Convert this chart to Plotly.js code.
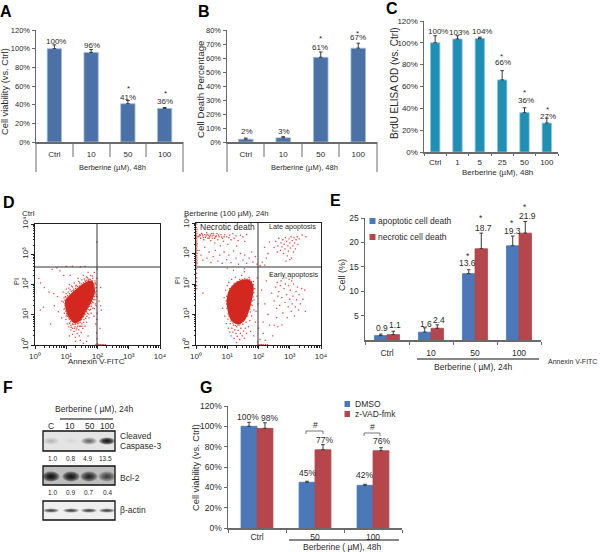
<!DOCTYPE html>
<html><head><meta charset="utf-8">
<script src="https://cdn.plot.ly/plotly-3.0.1.min.js"></script>
<style>html,body{margin:0;padding:0;background:#fff}#c{width:600px;height:552px}</style></head>
<body><div id="c"></div>
<script>
// ---------- data ----------
const aCats=['Ctrl','10','50','100'], aVals=[100,96,41,36], aErr=[4,3,3.5,1];
const bCats=['Ctrl','10','50','100'], bVals=[2,3,60.5,67], bErr=[0.8,0.8,3.8,3.6];
const cCats=['Ctrl','1','5','25','50','100'], cVals=[100,103.5,104,66,36,26.5], cErr=[6.5,3,1.2,8.5,4.5,4.5];
const aLabels=['100%','96%','41%','36%'], bLabels=['2%','3%','61%','67%'], cLabels=['100%','103%','104%','66%','36%','27%'];
const eCats=['Ctrl','10','50','100'];
const eApop=[0.9,1.6,13.6,19.3], eApopErr=[0.3,0.9,0.8,2], eNec=[1.1,2.4,18.7,21.9], eNecErr=[0.7,0.7,3.2,2.4];
const gCats=['Ctrl','50','100'];
const gDmso=[100,45,42], gDmsoErr=[4,1,1], gZvad=[98,77,76], gZvadErr=[5.5,5,3];
const gDmsoLabels=['100%','45%','42%'], gZvadLabels=['98%','77%','76%'];
// flow cytometry: [log10 Annexin V, log10 PI]
const ctrlCloud=[[1.68,2.07],[1.8,2.1],[1.87,1.95],[1.88,1.7],[1.8,1.48],[1.68,1.26],[1.56,1.04],[1.42,.82],[1.26,.75],[1.13,.9],[1.05,1.05],[1.0,1.25],[1.0,1.48],[1.12,1.62],[1.25,1.75],[1.39,1.87],[1.55,2.0]];
const ctrlEvents=[[0.12,2.2],[0.18,2.05],[0.3,1.9],[0.27,1.25],[0.17,1.15],[0.45,1.75],[0.5,0.7],[0.6,1.7],[0.62,1.3],[0.72,1.6],[0.75,1.1],[0.8,2.45],[0.85,0.9],[0.86,1.45],[0.9,1.75],[0.92,2.3],[0.94,1.05],[0.96,1.3],[0.97,1.6],[0.99,0.85],[1.0,1.85],[1.02,1.05],[1.03,0.7],[1.05,0.95],[1.06,1.75],[1.08,1.88],[1.08,0.6],[1.1,2.0],[1.1,0.85],[1.12,0.72],[1.13,2.3],[1.15,0.5],[1.15,0.65],[1.17,1.95],[1.18,0.82],[1.2,0.35],[1.2,0.55],[1.22,0.68],[1.24,1.85],[1.25,0.45],[1.26,2.05],[1.28,0.6],[1.29,0.25],[1.3,0.7],[1.32,0.5],[1.33,1.98],[1.35,0.38],[1.36,0.62],[1.38,2.2],[1.39,0.72],[1.4,0.5],[1.42,0.3],[1.43,2.05],[1.45,0.62],[1.46,0.8],[1.48,0.42],[1.5,2.15],[1.5,0.7],[1.52,0.9],[1.53,0.55],[1.55,2.3],[1.56,0.75],[1.58,1.0],[1.6,2.12],[1.6,0.62],[1.62,0.88],[1.63,1.12],[1.65,2.25],[1.65,0.75],[1.68,1.05],[1.7,1.25],[1.7,2.4],[1.72,2.18],[1.73,0.9],[1.75,1.15],[1.76,1.38],[1.78,2.1],[1.78,2.3],[1.8,1.05],[1.81,1.28],[1.82,1.55],[1.84,1.85],[1.85,2.2],[1.86,1.4],[1.87,1.65],[1.88,1.95],[1.89,0.95],[1.9,1.2],[1.9,2.4],[1.91,1.75],[1.92,1.5],[1.93,2.05],[1.94,0.7],[1.95,1.3],[1.96,1.9],[1.97,0.4],[1.98,0.2],[1.98,0.85],[1.98,1.6],[1.98,2.2],[1.98,3.4],[1.99,1.05],[1.99,2.5],[2.0,0.05],[2.05,0.01],[2.1,0.01],[2.15,0.01],[2.2,0.01],[2.25,0.01],[2.08,0.55],[2.12,1.15],[2.05,1.45],[2.1,1.9],[1.55,0.05],[1.45,0.15],[1.65,0.12],[1.7,0.3],[1.3,0.12],[1.1,0.3],[1.95,0.01],[2.02,0.01],[1.2,2.6],[1.0,2.6],[0.7,2.55],[0.55,2.5],[1.45,2.58],[1.6,2.6],[2.1,1.3],
[1.72,2.14],[1.77,2.17],[1.83,2.12],[1.89,2.02],[1.92,1.88],[1.93,1.72],[1.91,1.6],[1.88,1.5],[1.84,1.42],[1.8,1.36],[1.75,1.28],[1.7,1.17],[1.65,1.1],[1.6,1.02],[1.55,.94],[1.48,.85],[1.44,.74],[1.36,.7],[1.28,.68],[1.2,.7],[1.14,.78],[1.08,.9],[1.03,1.0],[.98,1.12],[.96,1.22],[.95,1.36],[.96,1.48],[.99,1.58],[1.04,1.63],[1.1,1.7],[1.16,1.77],[1.22,1.8],[1.3,1.87],[1.36,1.93],[1.42,1.95],[1.48,2.02],[1.55,2.06],[1.62,2.1],[1.66,2.14],
[1.92,2.12],[1.95,2.0],[1.96,1.78],[1.95,1.66],[1.93,1.36],[1.85,1.22],[1.78,1.18],[1.72,1.02],[1.66,.95],[1.57,.84],[1.5,.62],[1.42,.62],[1.34,.56],[1.26,.55],[1.16,.58],[1.1,.72],[1.0,.96],[.93,1.18],[.91,1.42],[.93,1.56],[1.0,1.7],[1.12,1.82],[1.2,1.92],[1.3,1.95],[1.4,2.1],[1.58,2.18],[1.68,2.22],[1.84,2.28]];
const treatCloud=[[1.42,2.09],[1.69,2.11],[1.81,1.92],[1.77,1.54],[1.69,1.21],[1.53,.82],[1.31,.71],[1.15,.82],[1.05,1.1],[1.01,1.48],[1.1,1.81],[1.26,2.0]];
const treatEvents=[
[0.02,1.85],[0.02,1.95],[0.02,2.08],[0.02,2.2],[0.02,2.35],[0.02,2.5],[0.02,2.62],[0.02,2.72],[0.02,2.82],[0.02,2.93],[0.02,3.05],[0.02,3.15],[0.02,3.27],[0.02,3.38],[0.02,3.5],[0.02,3.6],[0.02,3.72],[0.02,3.85],[0.02,3.97],[0.03,3.0],[0.03,3.32],[0.03,3.44],[0.03,3.66],[0.03,3.78],[0.03,2.68],[0.03,2.78],[0.03,2.88],[0.03,3.1],[0.03,3.22],[0.03,3.55],
[0.08,3.55],[0.12,3.62],[0.15,3.5],[0.18,3.66],[0.22,3.58],[0.25,3.45],[0.28,3.62],[0.3,3.53],[0.34,3.68],[0.38,3.5],[0.4,3.6],[0.44,3.55],[0.47,3.42],[0.5,3.65],[0.53,3.5],[0.57,3.6],[0.6,3.35],[0.63,3.55],[0.67,3.65],[0.7,3.45],[0.74,3.55],[0.78,3.25],[0.8,3.62],[0.85,3.5],[0.88,3.4],[0.92,3.62],[0.98,3.55],[1.02,3.3],[1.08,3.6],[1.12,3.45],[1.18,3.65],[1.22,3.5],[1.28,3.58],[1.35,3.42],[1.42,3.6],[1.5,3.55],[1.56,3.4],[1.62,3.62],[1.3,3.25],
[0.1,3.57],[0.14,3.6],[0.2,3.62],[0.24,3.52],[0.32,3.58],[0.36,3.62],[0.42,3.5],[0.46,3.6],[0.52,3.58],[0.55,3.66],[0.6,3.5],[0.65,3.58],[0.72,3.6],[0.82,3.54],[0.9,3.55],[1.05,3.52],
[0.1,3.1],[0.16,2.95],[0.22,2.78],[0.28,3.2],[0.35,2.85],[0.42,3.05],[0.48,2.7],[0.55,2.9],[0.62,3.1],[0.7,2.75],[0.76,2.95],[0.84,2.68],[0.9,3.05],[0.98,2.8],[1.05,2.95],[1.12,2.7],[1.2,3.08],[1.28,2.85],[1.36,2.65],[1.42,3.0],[1.5,2.78],[1.56,2.95],[1.62,2.68],[1.7,2.85],[1.78,3.05],[1.82,2.72],[1.9,2.9],[1.95,2.65],[1.0,2.52],[1.2,2.45],[1.55,2.5],[2.05,2.6],[2.12,2.72],[2.2,2.62],
[2.55,3.4],[2.62,3.25],[2.65,3.5],[2.7,3.1],[2.72,3.35],[2.75,3.22],[2.78,3.45],[2.8,3.0],[2.82,3.3],[2.85,3.15],[2.86,3.52],[2.9,3.4],[2.92,2.92],[2.94,3.25],[2.96,3.08],[2.98,3.48],[3.0,3.35],[3.02,3.18],[3.04,3.55],[3.06,2.85],[3.08,3.42],[3.1,3.25],[3.12,3.05],[3.14,3.52],[3.16,3.35],[3.18,3.15],[3.2,3.45],[3.24,3.55],[3.26,3.3],[3.3,3.48],[2.6,3.05],[2.5,3.2],[2.88,2.75],[3.0,2.8],[3.4,3.6],[3.52,3.55],[2.35,3.38],[2.2,3.2],[2.3,3.0],[2.25,2.85],
[2.42,1.7],[2.5,1.45],[2.55,1.9],[2.58,1.2],[2.6,2.05],[2.62,1.6],[2.65,1.75],[2.68,1.3],[2.7,1.95],[2.72,2.1],[2.75,1.55],[2.78,1.05],[2.8,2.25],[2.82,1.85],[2.85,1.4],[2.86,2.0],[2.88,2.2],[2.9,1.65],[2.92,0.9],[2.95,1.25],[2.96,1.95],[2.98,2.15],[3.0,1.5],[3.02,1.8],[3.05,1.1],[3.06,2.1],[3.08,1.35],[3.1,1.6],[3.12,2.0],[3.15,0.95],[3.18,1.25],[3.2,1.75],[3.22,1.48],[3.25,1.9],[3.28,1.15],[3.3,1.65],[3.34,1.35],[3.38,1.85],[3.42,1.5],[3.48,1.8],[3.5,1.1],[2.4,2.3],[2.25,2.1],[2.3,1.0],[2.2,1.35],[2.15,0.75],[2.35,0.65],[2.5,0.65],[2.62,0.6],[2.75,0.66],[2.45,0.3],[2.15,0.38],[2.58,0.9],[2.1,1.8],
[1.97,0.1],[2.0,0.01],[2.05,0.01],[2.1,0.01],[2.15,0.01],[2.22,0.01],[2.28,0.01],[2.05,0.18],[2.22,0.15],[0.22,1.7],
[0.85,1.2],[0.9,1.55],[0.92,0.95],[0.95,1.8],[0.97,0.7],[0.98,1.35],[1.0,1.95],[1.02,0.85],[1.04,0.55],[1.05,2.05],[1.08,0.95],[1.08,0.42],[1.1,0.7],[1.12,0.3],[1.14,2.15],[1.15,0.55],[1.18,0.42],[1.2,0.65],[1.22,0.22],[1.24,0.5],[1.26,2.22],[1.28,0.38],[1.3,0.6],[1.32,0.28],[1.35,0.48],[1.38,0.65],[1.4,0.18],[1.42,0.38],[1.44,0.55],[1.46,2.28],[1.48,0.3],[1.5,0.68],[1.52,0.45],[1.55,0.22],[1.58,0.55],[1.6,0.75],[1.62,0.38],[1.65,0.95],[1.68,0.6],[1.7,2.22],[1.72,0.8],[1.74,1.08],[1.78,0.95],[1.8,1.3],[1.82,1.7],[1.84,2.08],[1.85,1.15],[1.86,1.48],[1.88,1.85],[1.9,0.75],[1.92,1.1],[1.95,1.6],[1.96,2.2],[2.0,0.55],[1.98,1.35],[1.75,0.45],[1.85,0.3],[1.3,0.08],[1.55,2.4],
[1.4,2.15],[1.48,2.14],[1.56,2.18],[1.64,2.16],[1.72,2.15],[1.78,2.08],[1.84,1.98],[1.86,1.85],[1.85,1.72],[1.83,1.58],[1.8,1.45],[1.76,1.32],[1.72,1.18],[1.66,1.08],[1.62,.98],[1.57,.88],[1.5,.78],[1.42,.7],[1.34,.66],[1.26,.64],[1.18,.72],[1.12,.78],[1.06,.95],[1.03,1.02],[.99,1.2],[.97,1.45],[.98,1.6],[1.04,1.72],[1.08,1.85],[1.16,1.93],[1.22,2.02],[1.32,2.08]];
const minorDecades=[2,3,4,5,6,7,8,9,20,30,40,50,60,70,80,90,200,300,400,500,600,700,800,900,2000,3000,4000,5000,6000,7000,8000,9000];
const decades=[1,10,100,1000,10000], decadeLabels=['10⁰','10¹','10²','10³','10⁴'];
// western blot: band intensities 0..1
const blotLanes=['C','10','50','100'];
const casp3Bands=[0.12,0.03,0.4,1], casp3Ratio=['1.0','0.8','4.9','13.5'];
const bcl2Bands=[1,0.95,0.8,0.55], bcl2Ratio=['1.0','0.9','0.7','0.4'];
const actinBands=[0.65,0.65,0.65,0.65];

// ---------- helpers ----------
const W=600,H=552,FONT='Liberation Sans, Arial, sans-serif',TXT='#2a2a2a',AX='#6a6a6a';
const fx=p=>p/W, fy=p=>1-p/H;
const ann=[],shp=[],traces=[],layout={};
function T(x,y,text,o={}){ann.push(Object.assign({xref:'paper',yref:'paper',x:fx(x),y:fy(y),text,showarrow:false,xanchor:'center',yanchor:'middle'},o,{font:Object.assign({family:FONT,size:8,color:TXT},o.font||{})}));}
function L(x0,y0,x1,y1,color=AX,width=1){shp.push({type:'line',xref:'paper',yref:'paper',x0:fx(x0),y0:fy(y0),x1:fx(x1),y1:fy(y1),line:{color,width}});}
function R(x0,y0,x1,y1,fill,lc,lw=0){shp.push({type:'rect',xref:'paper',yref:'paper',x0:fx(x0),y0:fy(y0),x1:fx(x1),y1:fy(y1),fillcolor:fill,line:{color:lc||fill,width:lw}});}
function panel(i,x0,x1,y0,y1,xo,yo){
  const s=i===1?'':String(i);
  layout['xaxis'+s]=Object.assign({domain:[fx(x0),fx(x1)],anchor:'y'+s,showgrid:false,zeroline:false,showline:true,linecolor:AX,linewidth:1.5,ticks:'outside',tickcolor:AX,ticklen:3,tickangle:0,tickfont:{family:FONT,size:8,color:TXT},fixedrange:true},xo);
  layout['yaxis'+s]=Object.assign({domain:[fy(y0),fy(y1)],anchor:'x'+s,showgrid:false,zeroline:false,showline:true,linecolor:AX,linewidth:1.5,ticks:'outside',tickcolor:AX,ticklen:3,tickfont:{family:FONT,size:7.5,color:TXT},fixedrange:true},yo);
  return ['x'+s,'y'+s];
}
function bar(ax,cats,vals,errs,color,edge,width,offset,name){
  traces.push({type:'bar',name,x:cats,y:vals,xaxis:ax[0],yaxis:ax[1],width,offset,marker:{color,line:{color:edge,width:0.8}},
    error_y:{type:'data',array:errs,symmetric:false,arrayminus:errs.map(()=>0),color:'#3a3a3a',thickness:1,width:1.8},hoverinfo:'skip',showlegend:false});
}

// ---------- A ----------
let ax=panel(1,36,183,142,30,{type:'category',categoryarray:aCats,range:[-.5,3.5],ticks:'',ticklabelstandoff:4},
 {range:[0,120],tickvals:[0,20,40,60,80,100,120],ticktext:['0%','20%','40%','60%','80%','100%','120%']});
bar(ax,aCats,aVals,aErr,'#4a72a8','#a9bdd8',0.39,-0.195,'viability');
[36,183].forEach(x=>L(x,142,x,172)); [73,110,146].forEach(x=>L(x,142,x,157));
T(5,92,'Cell viability (vs. Ctrl)',{textangle:-90,font:{size:9.3}});
T(112,167,'Berberine (µM), 48h',{font:{size:7.5}});
[[56,41],[92,45],[128,97],[165,101]].forEach((p,i)=>T(p[0],p[1],aLabels[i]));
T(128,89,'*'); T(165,94,'*');

// ---------- B ----------
ax=panel(2,227,377,142,30,{type:'category',categoryarray:bCats,range:[-.5,3.5],ticks:'',ticklabelstandoff:4},
 {range:[0,80],tickvals:[0,10,20,30,40,50,60,70,80],ticktext:['0%','10%','20%','30%','40%','50%','60%','70%','80%']});
bar(ax,bCats,bVals,bErr,'#4a72a8','#a9bdd8',0.39,-0.195,'death');
[227,377].forEach(x=>L(x,142,x,172)); [264,302,339].forEach(x=>L(x,142,x,157));
T(200,90,'Cell Death Percentage',{textangle:-90,font:{size:9.7}});
T(304,167,'Berberine (µM), 48h',{font:{size:7.5}});
[[247,132],[284,131],[320,47],[358,38]].forEach((p,i)=>T(p[0],p[1],bLabels[i]));
T(320,39,'*'); T(357,33,'*');

// ---------- C ----------
ax=panel(3,424,558,152,21,{type:'category',categoryarray:cCats,range:[-.5,5.5],tickson:'boundaries',ticklen:2,ticklabelstandoff:2},
 {range:[0,120],tickvals:[0,20,40,60,80,100,120],ticktext:['0%','20%','40%','60%','80%','100%','120%'],tickfont:{family:FONT,size:8,color:TXT}});
bar(ax,cCats,cVals,cErr,'#1f8fb6','#8cc6dc',0.42,-0.21,'BrdU');
T(394,83,'BrdU ELISA OD (vs. Ctrl)',{textangle:-90,font:{size:10}});
T(497,172,'Berberine (µM), 48h',{font:{size:8}});
[[438,31],[459,32],[482,31],[503,63],[526,100],[548,116]].forEach((p,i)=>T(p[0],p[1],cLabels[i]));
T(501,56,'*');T(524,93,'*');T(547,109,'*');

// ---------- D ----------
function flow(i,x0,x1,y0,y1,cloud,events,vx,hy){
  const tick={type:'log',range:[0,4],tickvals:decades,ticktext:decadeLabels,linecolor:'#222',linewidth:1,mirror:true,tickcolor:'#222',tickfont:{family:FONT,size:8,color:TXT},ticklen:3,minor:{tickvals:minorDecades,ticks:'outside',ticklen:1.5,tickcolor:'#222'}};
  const a=panel(i,x0,x1,y0,y1,Object.assign({},tick),Object.assign({},tick,{tickangle:-90}));
  const c=cloud.concat([cloud[0]]);
  traces.push({type:'scatter',mode:'lines',x:c.map(p=>10**p[0]),y:c.map(p=>10**p[1]),fill:'toself',fillcolor:'#d3281f',line:{color:'#d3281f',width:2,shape:'spline'},xaxis:a[0],yaxis:a[1],hoverinfo:'skip',showlegend:false});
  traces.push({type:'scatter',mode:'markers',x:events.map(p=>10**p[0]),y:events.map(p=>10**p[1]),marker:{color:'#dc3a30',size:1.3,symbol:'square',opacity:0.9},cliponaxis:false,xaxis:a[0],yaxis:a[1],hoverinfo:'skip',showlegend:false});
  L(vx,y1,vx,y0,'#333',1); L(x0,hy,x1,hy,'#333',1);
}
flow(4,35,160,345,224,ctrlCloud,ctrlEvents,97,267);
flow(5,196,321,345,223,treatCloud,treatEvents,258,267);
T(20,213,'Ctrl',{xanchor:'left'});
T(182,213,'Berberine (100 µM), 24h',{xanchor:'left',font:{size:7.8}});
T(16,282,'PI',{textangle:-90,font:{size:7.5}});
T(177,281,'PI',{textangle:-90,font:{size:7.5}});
T(97,361,'Annexin V-FITC',{font:{size:8}});
T(198,227,'Necrotic death',{xanchor:'left',font:{size:8.5}});
T(267,227,'Late apoptosis',{xanchor:'left',font:{size:7.2}});
T(267,274,'Early apoptosis',{xanchor:'left',font:{size:7.2}});

// ---------- E ----------
ax=panel(6,365,541,340,218,{type:'category',categoryarray:eCats,range:[-.5,3.5],tickson:'boundaries',ticklabelstandoff:4,tickfont:{family:FONT,size:8.5,color:TXT}},
 {range:[0,25],tickvals:[5,10,15,20,25],tickfont:{family:FONT,size:8.5,color:TXT}});
bar(ax,eCats,eApop,eApopErr,'#4a78b8','#4a78b8',0.285,-0.285,'apoptotic cell death');
bar(ax,eCats,eNec,eNecErr,'#b5474c','#b5474c',0.285,0,'necrotic cell death');
T(342,275,'Cell (%)',{textangle:-90,font:{size:9}});
[[382,328],[426,324],[467,263],[512,231]].forEach((p,i)=>T(p[0],p[1],eApop[i].toFixed(1),{font:{size:8.5}}));
[[395,325],[439,320],[483,228],[527,216]].forEach((p,i)=>T(p[0],p[1],eNec[i].toFixed(1),{font:{size:8.5}}));
[[468,256],[481,218],[512,223],[525,207]].forEach(p=>T(p[0],p[1],'*',{font:{size:8.5}}));
R(369.5,218,375.5,224,'#4a78b8'); R(369.5,234,375.5,240,'#b5474c');
T(376,221,'apoptotic cell death',{xanchor:'left',font:{size:8.5}});
T(376,237,'necrotic cell death',{xanchor:'left',font:{size:8.5}});
L(417,359,539,359,'#111',1);
T(473,367,'Berberine ( µM), 24h',{font:{size:8.5}});
T(546,361,'Annexin V-FITC',{xanchor:'left',font:{size:7}});

// ---------- F ----------
const laneX=[50,70,88,106];
function blot(y0,y1,bg,bands,hw,hh,dy){
  R(43,y0,115,y1,bg,'#111',1.3);
  bands.forEach((v,i)=>{
    const cy=(y0+y1)/2+dy, n=6;
    for(let k=0;k<n;k++){const s=1-k/n;
      shp.push({type:'circle',xref:'paper',yref:'paper',x0:fx(laneX[i]+1-hw*s),x1:fx(laneX[i]+1+hw*s),y0:fy(cy-hh*s),y1:fy(cy+hh*s),fillcolor:'#000',opacity:v*0.3,line:{width:0}});}
  });
}
blot(431,451,'#e4e4e4',casp3Bands,8,3.5,0);
blot(466,485,'#bdbdbd',bcl2Bands,8.5,5,1);
blot(501,520,'#efefef',actinBands,8,2,0);
T(94,409,'Berberine ( µM), 24h',{font:{size:8.5}});
L(60,419,113,419,'#555',1.5);
[51,70,90,107].forEach((x,i)=>T(x,426,blotLanes[i],{font:{size:8.5}}));
[52,70,87,105].forEach((x,i)=>T(x,458,casp3Ratio[i],{font:{size:6.5}}));
[52,70,88,107].forEach((x,i)=>T(x,492,bcl2Ratio[i],{font:{size:6.5}}));
T(118,436,'Cleaved',{xanchor:'left',font:{size:8.5}});
T(118,446,'Caspase-3',{xanchor:'left',font:{size:8.5}});
T(118,478,'Bcl-2',{xanchor:'left',font:{size:8.5}});
T(118,510,'β-actin',{xanchor:'left',font:{size:8.5}});

// ---------- G ----------
ax=panel(7,228,402,528,406,{type:'category',categoryarray:gCats,range:[-.5,2.5],tickson:'boundaries',tickfont:{family:FONT,size:8.5,color:TXT}},
 {range:[0,120],tickvals:[0,20,40,60,80,100,120],ticktext:['0%','20%','40%','60%','80%','100%','120%'],tickfont:{family:FONT,size:8.5,color:TXT}});
bar(ax,gCats,gDmso,gDmsoErr,'#4a78b8','#4a78b8',0.275,-0.275,'DMSO');
bar(ax,gCats,gZvad,gZvadErr,'#b5474c','#b5474c',0.275,0,'z-VAD-fmk');
T(196,468,'Cell viability (vs. Ctrl)',{textangle:-90,font:{size:9.3}});
[[248,417],[307,473],[364,475]].forEach((p,i)=>T(p[0],p[1],gDmsoLabels[i],{font:{size:8.5}}));
[[269,418],[324,440],[381,441]].forEach((p,i)=>T(p[0],p[1],gZvadLabels[i],{font:{size:8.5}}));
R(344.5,401,350,407,'#4a78b8'); R(344.5,411,350,417,'#b5474c');
T(353,404,'DMSO',{xanchor:'left',font:{size:8.5}});
T(353,414,'z-VAD-fmk',{xanchor:'left',font:{size:8.5}});
[[306,323,431,425,315],[364,380,433,427,372]].forEach(b=>{
  L(b[0],b[2],b[1],b[2],'#555',.8);L(b[0],b[2],b[0],b[2]+3,'#555',.8);L(b[1],b[2],b[1],b[2]+3,'#555',.8);
  T(b[4],b[3],'#',{font:{size:8.5}});});
L(289,540,399,540,'#111',1);
T(342,547,'Berberine ( µM), 48h',{font:{size:8.5}});

// ---------- panel letters ----------
[['A',6,12],['B',204,12],['C',392,9],['D',9,202],['E',335,201],['F',8,387],['G',206,387]].forEach(l=>T(l[1],l[2],'<b>'+l[0]+'</b>',{font:{size:16,color:'#000'}}));

Object.assign(layout,{width:W,height:H,margin:{l:0,r:0,t:0,b:0},paper_bgcolor:'#fff',plot_bgcolor:'rgba(0,0,0,0)',barmode:'overlay',showlegend:false,annotations:ann,shapes:shp,font:{family:FONT}});
Plotly.newPlot('c',traces,layout,{displayModeBar:false,staticPlot:true});
</script></body></html>
